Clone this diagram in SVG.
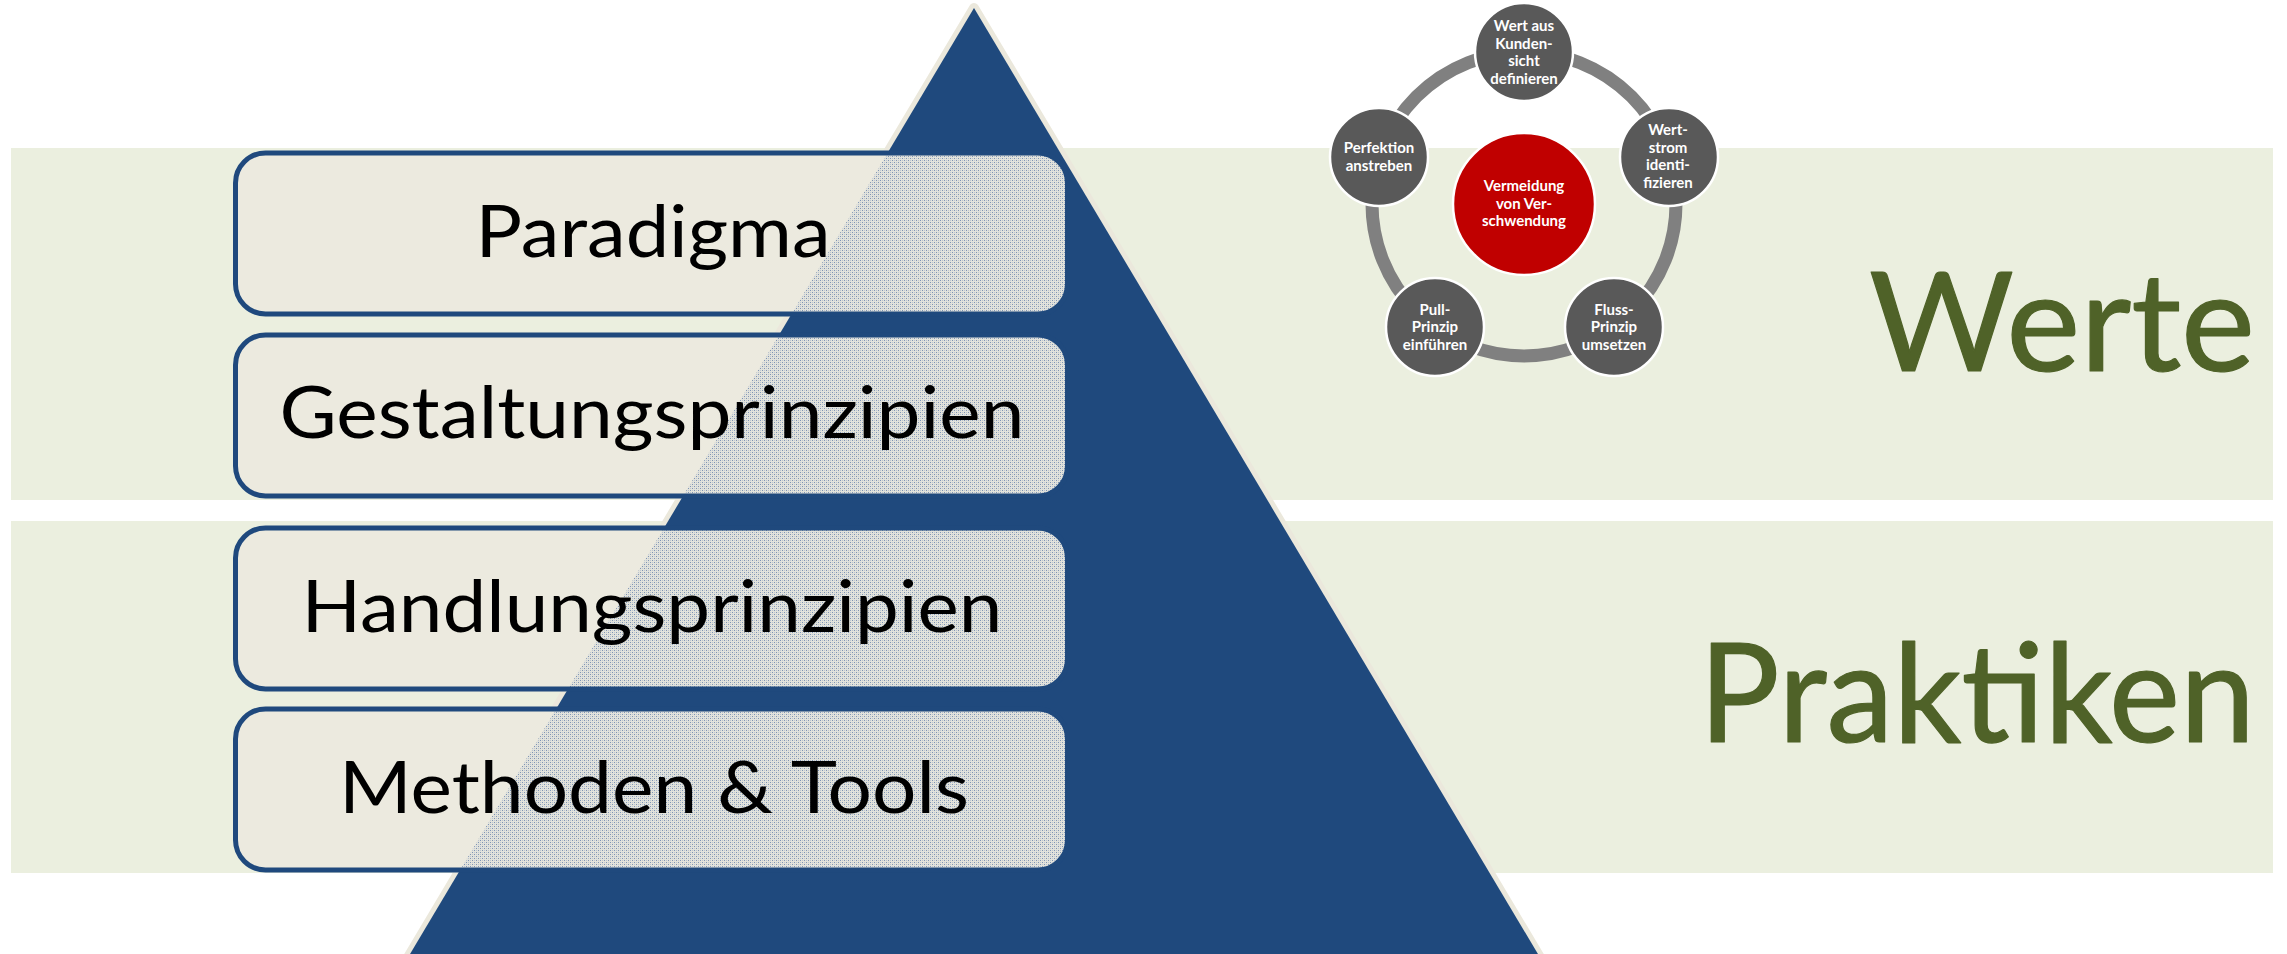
<svg xmlns="http://www.w3.org/2000/svg" width="2287" height="954" viewBox="0 0 2287 954">
<style>
.band{fill:#ebefdf}
.boxfill{fill:#eceadf}
.boxstroke{fill:none;stroke:#1f497d;stroke-width:5}
.boxtext{font-family:Lato,"Open Sans",sans-serif;font-size:72px;fill:#000;text-anchor:middle}
.label{font-family:Lato,"Open Sans",sans-serif;font-size:137px;fill:#4f6228;stroke:#4f6228;stroke-width:1.2;stroke-linejoin:round;text-anchor:start}
.node{fill:#595959;stroke:#ffffff;stroke-width:2.5}
.core{fill:#c00000;stroke:#ffffff;stroke-width:2.5}
.ntext{font-family:Lato,"Open Sans",sans-serif;font-weight:700;font-size:15px;fill:#ffffff;text-anchor:middle}
</style>
<defs>
<pattern id="dots" width="4" height="4" patternUnits="userSpaceOnUse">
<rect width="4" height="4" fill="#e2e3dc"/>
<rect x="0" y="0" width="1" height="1" fill="#7f94b4"/>
<rect x="2" y="2" width="1" height="1" fill="#7f94b4"/>
<rect x="2" y="0" width="1" height="1" fill="#bcc4d1"/>
<rect x="0" y="2" width="1" height="1" fill="#bcc4d1"/>
</pattern>
<clipPath id="c1"><rect x="235.5" y="153" width="832" height="161" rx="30"/></clipPath>
<clipPath id="c2"><rect x="235.5" y="335" width="832" height="161" rx="30"/></clipPath>
<clipPath id="c3"><rect x="235.5" y="528" width="832" height="161" rx="30"/></clipPath>
<clipPath id="c4"><rect x="235.5" y="709" width="832" height="161" rx="30"/></clipPath>
<polygon id="tri" points="974,8 400.5,970 1547.5,970"/>
</defs>
<rect width="2287" height="954" fill="#ffffff"/>
<g id="bands">
<rect class="band" x="11" y="148" width="2262" height="352"/>
<rect class="band" x="11" y="521" width="2262" height="352"/>
</g>
<g id="pyramid">
<use href="#tri" fill="#1f497d" stroke="#ebe8dc" stroke-width="10" stroke-linejoin="round"/>
<use href="#tri" fill="#1f497d"/>
</g>
<g id="box-paradigma">
<rect class="boxfill" x="235.5" y="153" width="832" height="161" rx="30"/>
<use href="#tri" fill="url(#dots)" clip-path="url(#c1)"/>
<rect class="boxstroke" x="235.5" y="153" width="832" height="161" rx="30"/>
<text class="boxtext" x="653" y="257" textLength="355" lengthAdjust="spacingAndGlyphs">Paradigma</text>
</g>
<g id="box-gestaltung">
<rect class="boxfill" x="235.5" y="335" width="832" height="161" rx="30"/>
<use href="#tri" fill="url(#dots)" clip-path="url(#c2)"/>
<rect class="boxstroke" x="235.5" y="335" width="832" height="161" rx="30"/>
<text class="boxtext" x="652" y="438" textLength="745" lengthAdjust="spacingAndGlyphs">Gestaltungsprinzipien</text>
</g>
<g id="box-handlung">
<rect class="boxfill" x="235.5" y="528" width="832" height="161" rx="30"/>
<use href="#tri" fill="url(#dots)" clip-path="url(#c3)"/>
<rect class="boxstroke" x="235.5" y="528" width="832" height="161" rx="30"/>
<text class="boxtext" x="652" y="632" textLength="701" lengthAdjust="spacingAndGlyphs">Handlungsprinzipien</text>
</g>
<g id="box-methoden">
<rect class="boxfill" x="235.5" y="709" width="832" height="161" rx="30"/>
<use href="#tri" fill="url(#dots)" clip-path="url(#c4)"/>
<rect class="boxstroke" x="235.5" y="709" width="832" height="161" rx="30"/>
<text class="boxtext" x="654" y="813" textLength="630" lengthAdjust="spacingAndGlyphs">Methoden &amp; Tools</text>
</g>
<g id="label-werte">
<text class="label" x="1869" y="371" textLength="386" lengthAdjust="spacingAndGlyphs">Werte</text>
</g>
<g id="label-praktiken">
<text class="label" x="1699" y="742" textLength="556" lengthAdjust="spacingAndGlyphs">Praktiken</text>
</g>
<g id="connectors">
<circle cx="1524" cy="204" r="152" fill="none" stroke="#808080" stroke-width="13"/>
</g>
<g id="node-center">
<circle class="core" cx="1524" cy="204" r="71"/>
<text class="ntext" x="1524" y="191">Vermeidung</text>
<text class="ntext" x="1524" y="208.5">von Ver-</text>
<text class="ntext" x="1524" y="226">schwendung</text>
</g>
<g id="node-wert">
<circle class="node" cx="1524" cy="52" r="49"/>
<text class="ntext" x="1524" y="31">Wert aus</text>
<text class="ntext" x="1524" y="48.5">Kunden-</text>
<text class="ntext" x="1524" y="66">sicht</text>
<text class="ntext" x="1524" y="83.5">definieren</text>
</g>
<g id="node-wertstrom">
<circle class="node" cx="1669" cy="157" r="49"/>
<text class="ntext" x="1668" y="135">Wert-</text>
<text class="ntext" x="1668" y="152.5">strom</text>
<text class="ntext" x="1668" y="170">identi-</text>
<text class="ntext" x="1668" y="187.5">fizieren</text>
</g>
<g id="node-fluss">
<circle class="node" cx="1614" cy="327" r="49"/>
<text class="ntext" x="1614" y="315">Fluss-</text>
<text class="ntext" x="1614" y="332">Prinzip</text>
<text class="ntext" x="1614" y="349.5">umsetzen</text>
</g>
<g id="node-pull">
<circle class="node" cx="1435" cy="327" r="49"/>
<text class="ntext" x="1435" y="315">Pull-</text>
<text class="ntext" x="1435" y="332">Prinzip</text>
<text class="ntext" x="1435" y="349.5">einführen</text>
</g>
<g id="node-perfektion">
<circle class="node" cx="1379" cy="157" r="49"/>
<text class="ntext" x="1379" y="153">Perfektion</text>
<text class="ntext" x="1379" y="170.5">anstreben</text>
</g>
</svg>
